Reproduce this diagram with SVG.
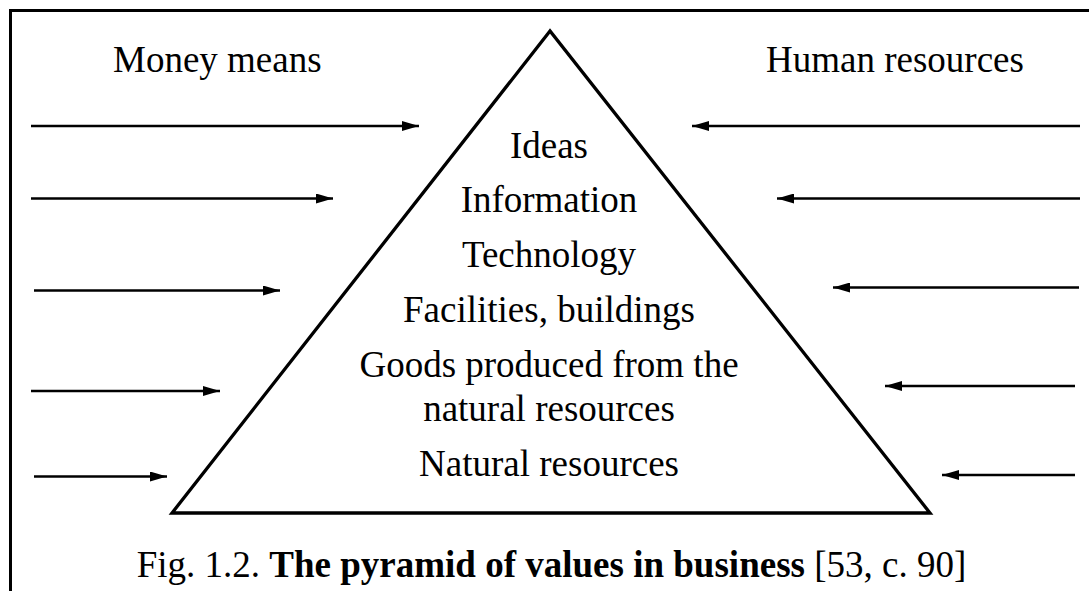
<svg xmlns="http://www.w3.org/2000/svg" width="1089" height="591" viewBox="0 0 1089 591">
<defs>
<style>
.t{font-family:'Liberation Serif','Times New Roman','DejaVu Serif',serif;font-size:37px;fill:#000}
.c{text-anchor:middle}
.ln{stroke:#000;stroke-width:2.3;fill:none}
</style>
<marker id="ah" viewBox="0 0 17 10" refX="17" refY="5" markerUnits="userSpaceOnUse" markerWidth="17" markerHeight="10" orient="auto">
<path d="M0,0 L17,5 L0,10 Z" fill="#000"/>
</marker>
</defs>
<rect width="1089" height="591" fill="#fff"/>
<path d="M10.5,620 L10.5,10.5 L1100,10.5" fill="none" stroke="#000" stroke-width="3"/>
<g id="pyramid" font-family="Liberation Serif, Times New Roman, serif" font-size="37">
<polygon points="550,31 172,513 930,513" fill="none" stroke="#000" stroke-width="3.3" stroke-linejoin="miter"/>
<text class="t c" x="549" y="158">Ideas</text>
<text class="t c" x="549" y="212">Information</text>
<text class="t c" x="549" y="267">Technology</text>
<text class="t c" x="549" y="322">Facilities, buildings</text>
<text class="t c" x="549" y="377">Goods produced from the</text>
<text class="t c" x="549" y="421">natural resources</text>
<text class="t c" x="549" y="476">Natural resources</text>
</g>
<g id="money">
<text class="t" x="113" y="72">Money means</text>
</g>
<g id="human">
<text class="t" x="766" y="72">Human resources</text>
</g>
<g id="connectors">
<line class="ln" x1="31" y1="126" x2="419" y2="126" marker-end="url(#ah)"/>
<line class="ln" x1="31" y1="198.5" x2="333" y2="198.5" marker-end="url(#ah)"/>
<line class="ln" x1="34" y1="290.5" x2="280" y2="290.5" marker-end="url(#ah)"/>
<line class="ln" x1="31" y1="391" x2="220" y2="391" marker-end="url(#ah)"/>
<line class="ln" x1="34" y1="476.5" x2="167" y2="476.5" marker-end="url(#ah)"/>
<line class="ln" x1="1080" y1="126" x2="692" y2="126" marker-end="url(#ah)"/>
<line class="ln" x1="1080" y1="198.5" x2="777" y2="198.5" marker-end="url(#ah)"/>
<line class="ln" x1="1079" y1="287.5" x2="833" y2="287.5" marker-end="url(#ah)"/>
<line class="ln" x1="1075" y1="386" x2="885" y2="386" marker-end="url(#ah)"/>
<line class="ln" x1="1075" y1="475" x2="942" y2="475" marker-end="url(#ah)"/>
</g>
<g id="caption">
<text class="t c" x="551.5" y="577">Fig. 1.2. <tspan font-weight="bold">The pyramid of values in business</tspan> [53, c. 90]</text>
</g>
</svg>
